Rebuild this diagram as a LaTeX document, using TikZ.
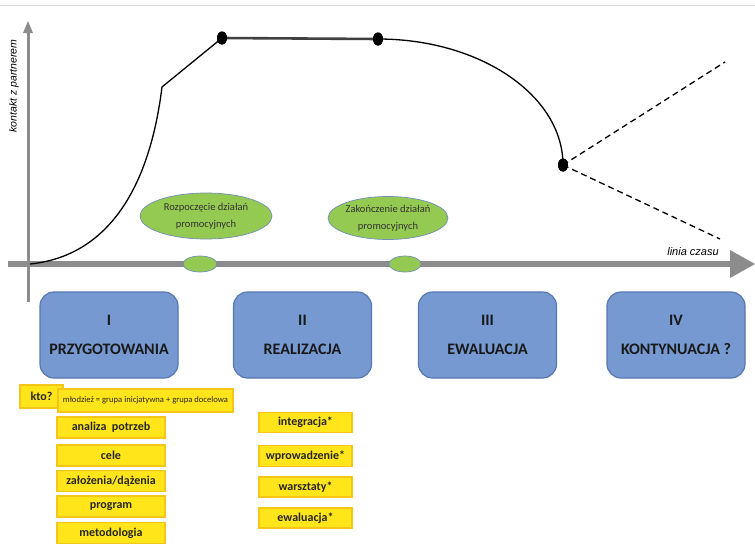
\documentclass[tikz,border=0pt]{standalone}
\usepackage{fontspec}
\setmainfont{Carlito}
\newfontfamily\arialf{Liberation Sans}
\usetikzlibrary{shapes.geometric}
\definecolor{axisgray}{HTML}{8C8C8C}
\definecolor{phaseblue}{HTML}{7599D0}
\definecolor{phaseedge}{HTML}{5877B0}
\definecolor{leafgreen}{HTML}{94CA52}
\definecolor{leafedge}{HTML}{6F8FB8}
\definecolor{tagyellow}{HTML}{FFE51A}
\definecolor{tagedge}{HTML}{F5C518}
\definecolor{topline}{HTML}{DADADA}
\begin{document}
\begin{tikzpicture}[x=1pt,y=-1pt,
 phase/.style={draw=phaseedge, line width=1.2pt, fill=phaseblue, rounded corners=14pt,
   minimum width=138pt, minimum height=86pt, align=center,
   font=\fontsize{16}{29}\selectfont\bfseries, inner sep=0pt, text=black!90},
 tag/.style={draw=tagedge, line width=1.5pt, fill=tagyellow, minimum height=21pt,
   inner sep=0pt, font=\fontsize{12}{14}\selectfont\bfseries, text=black!85},
 bubble/.style={ellipse, fill=leafgreen, draw=leafedge, line width=0.7pt, inner sep=0pt,
   align=center, font=\fontsize{10.5}{17}\selectfont, text=black!80},
 blackdot/.style={ellipse, fill=black, minimum width=10pt, minimum height=13pt, inner sep=0pt},
 axisline/.style={draw=axisgray},
 curveline/.style={draw=black, line width=1.3pt},
 dashline/.style={draw=black, line width=1.3pt, dash pattern=on 6pt off 4pt},
]
\useasboundingbox (0,0) rectangle (755,544);
\fill[white] (0,0) rectangle (755,544);
\draw[topline, line width=1pt] (0,5) -- (755,5);

% axes
\coordinate (vbot) at (28,302);
\coordinate (vtop) at (28,32);
\draw[axisline, line width=3pt] (vbot) -- (vtop);
\fill[axisgray] (23,33) -- (28,21) -- (33,33) -- cycle;
\coordinate (hleft) at (8,264);
\coordinate (hright) at (731,264);
\draw[axisline, line width=6.5pt] (hleft) -- (hright);
\fill[axisgray] (730,250) -- (755,264) -- (730,278) -- cycle;

\node[rotate=90, font=\arialf\itshape\fontsize{10.5}{12}\selectfont] (ylab) at (14,86) {kontakt z partnerem};
\node[font=\arialf\itshape\fontsize{11}{12}\selectfont] (xlab) at (693,252) {linia czasu};

% bubbles
\node[bubble, minimum width=132pt, minimum height=46pt] (b1) at (206,216) {Rozpoczęcie działań\\promocyjnych};
\node[bubble, minimum width=113pt, minimum height=43pt] (b2) at (388,218) {Zakończenie działań\\promocyjnych};
\node[bubble, minimum width=34pt, minimum height=16pt] (s1) at (200,264) {};
\node[bubble, minimum width=32pt, minimum height=16pt] (s2) at (405,264) {};

% curve
\coordinate (c0) at (30,264);
\coordinate (k1) at (162,87);
\node[blackdot] (d1) at (222,38) {};
\node[blackdot] (d2) at (378,39) {};
\node[blackdot] (d3) at (563,165) {};
\coordinate (up) at (725,62);
\coordinate (down) at (720,239);
\draw[curveline] (c0) .. controls (100,257) and (148,200) .. (k1) -- (d1.center);
\draw[draw=black!75, line width=2.6pt] (d1.center) -- (d2.center);
\draw[curveline] (d2.center) arc[start angle=90, end angle=0, x radius=185, y radius=-126];
\draw[dashline] (d3.center) -- (up);
\draw[dashline] (d3.center) -- (down);
\node[blackdot] at (d1) {};
\node[blackdot] at (d2) {};
\node[blackdot] at (d3) {};

% phases
\node[phase] (p1) at (109,335) {I\\PRZYGOTOWANIA};
\node[phase] (p2) at (302.5,335) {II\\REALIZACJA};
\node[phase] (p3) at (487.5,335) {III\\EWALUACJA};
\node[phase] (p4) at (676,335) {IV\\KONTYNUACJA ?};

% tags
\node[tag, minimum width=43pt, minimum height=23pt] (kto) at (41.5,396.5) {kto?};
\node[tag, minimum width=175pt, minimum height=23pt, font=\fontsize{8.6}{10}\selectfont] (mlo) at (145.5,400.5) {młodzież = grupa inicjatywna + grupa docelowa};
\node[tag, minimum width=108pt] (t1) at (111,427.5) {analiza\ \ potrzeb};
\node[tag, minimum width=108pt] (t2) at (111,455.5) {cele};
\node[tag, minimum width=108pt] (t3) at (111,481) {założenia/dążenia};
\node[tag, minimum width=108pt] (t4) at (111,506.5) {program};
\node[tag, minimum width=108pt] (t5) at (111,533) {metodologia};

\node[tag, minimum width=93pt, minimum height=20pt] (r1) at (305.5,422.5) {integracja*};
\node[tag, minimum width=93pt, minimum height=21pt] (r2) at (305.5,456) {wprowadzenie*};
\node[tag, minimum width=93pt, minimum height=20pt] (r3) at (305.5,487) {warsztaty*};
\node[tag, minimum width=93pt, minimum height=20pt] (r4) at (305.5,518) {ewaluacja*};
\end{tikzpicture}
\end{document}
